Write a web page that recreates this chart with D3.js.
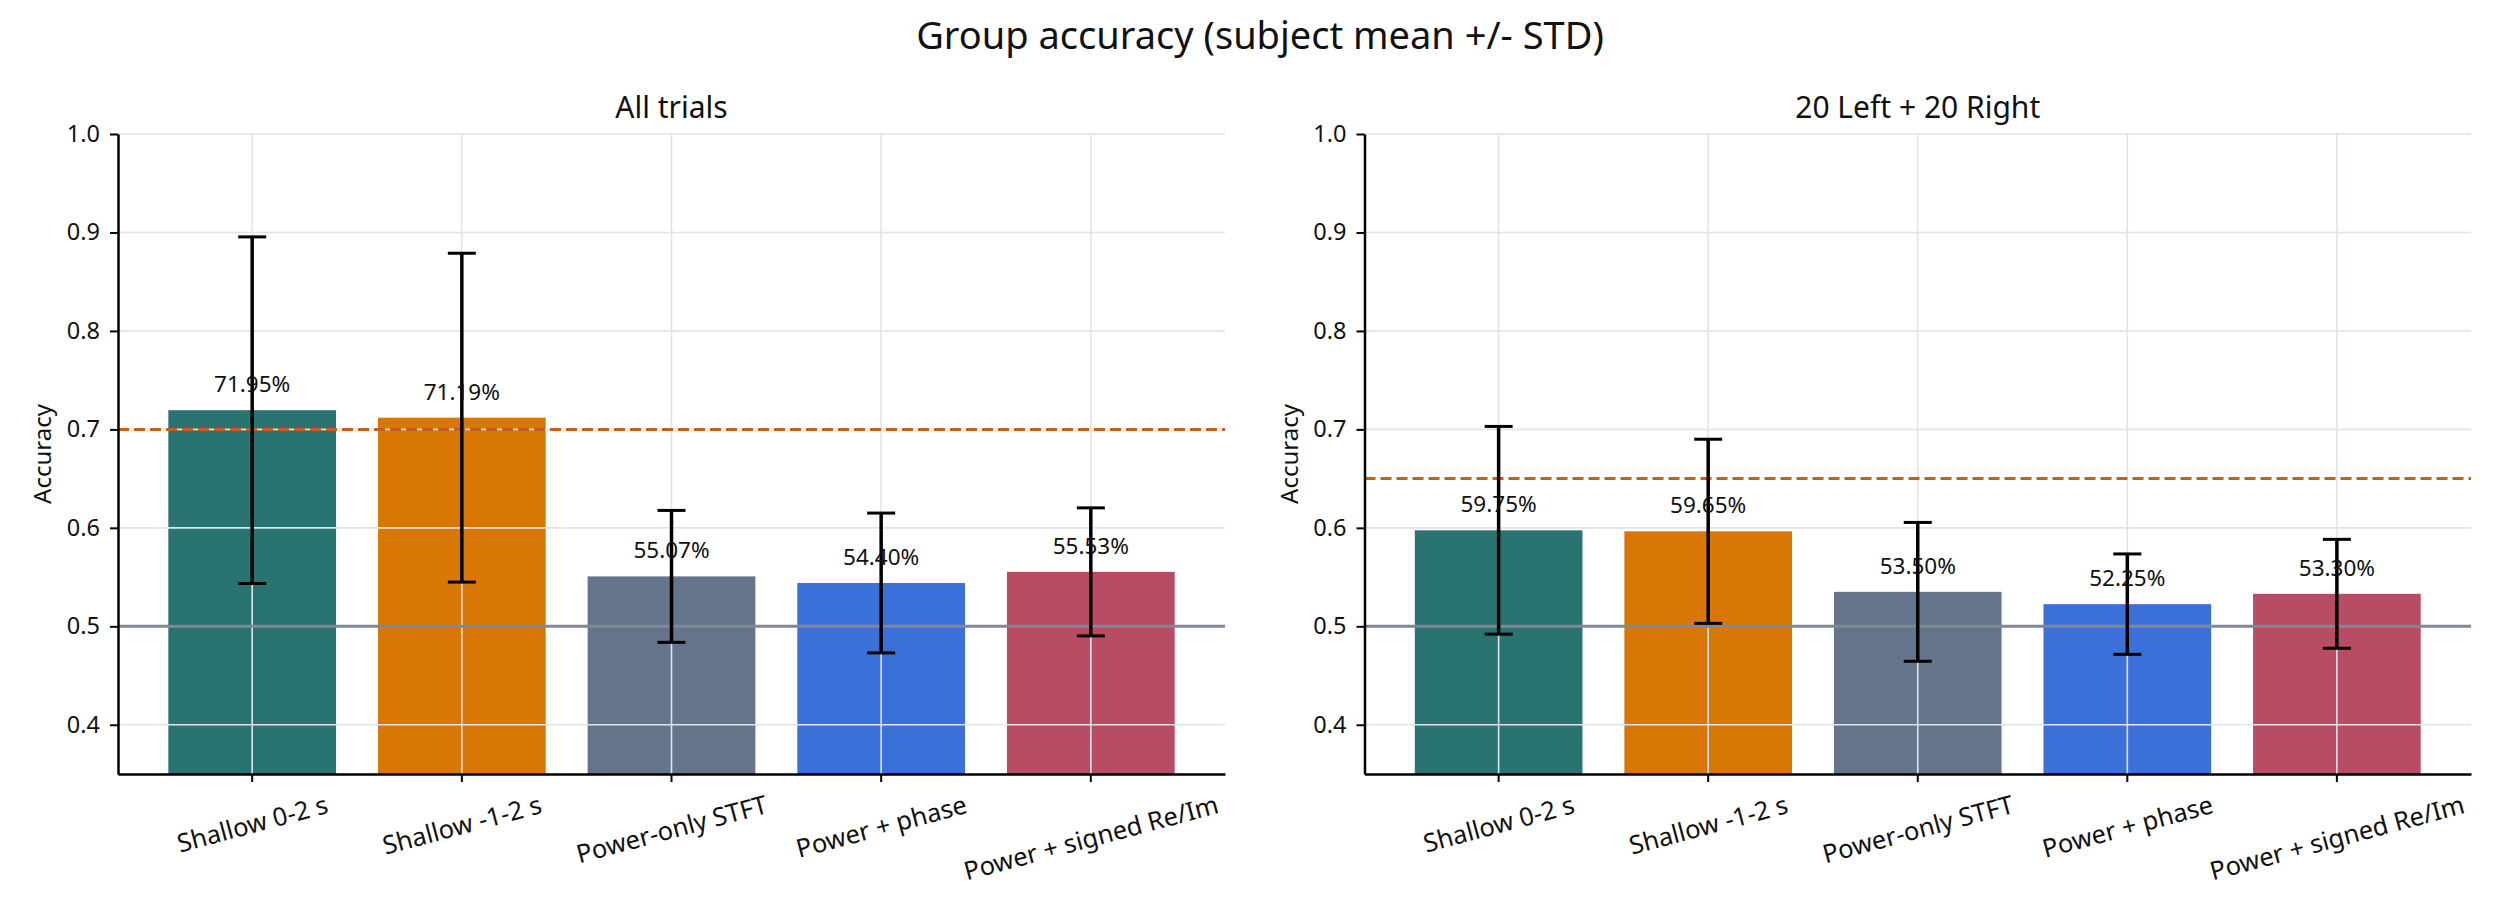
<!DOCTYPE html>
<html lang="en">

<head>
  <meta charset="UTF-8">
  <title>Group accuracy</title>
  <script src="https://d3js.org/d3.v7.min.js"></script>
  <style>
    body {
      margin: 0;
      background: #ffffff;
    }

    text {
      font-family: "Noto Sans", "Open Sans", sans-serif;
      fill: #111111;
    }

    .grid line {
      stroke: #dfe4ec;
      stroke-width: 1.6;
    }
  </style>
</head>

<body>
  <svg id="chart" width="2520" height="900"></svg>

  <script>
    const categories = ["Shallow 0-2 s", "Shallow -1-2 s", "Power-only STFT", "Power + phase", "Power + signed Re/Im"];
    const colors = ["#297370", "#d97706", "#64748b", "#3b70d8", "#b74c62"];

    const allTrialsMean = [0.7195, 0.7119, 0.5507, 0.5440, 0.5553];
    const allTrialsStd = [0.176, 0.167, 0.067, 0.071, 0.065];

    const balancedMean = [0.5975, 0.5965, 0.5350, 0.5225, 0.5330];
    const balancedStd = [0.1055, 0.0935, 0.0705, 0.051, 0.0553];

    const panelTitles = ["All trials", "20 Left + 20 Right"];
    const thresholds = [0.70, 0.65];
    const chanceLevel = 0.5;
    const yTicks = [0.4, 0.5, 0.6, 0.7, 0.8, 0.9, 1.0];

    const svg = d3.select("#chart");

    svg.append("text")
      .attr("x", 1260)
      .attr("y", 49)
      .attr("text-anchor", "middle")
      .style("font-size", "38px")
      .text("Group accuracy (subject mean +/- STD)");

    const plotTop = 134, plotBottom = 774;
    const panels = [
      { left: 118, right: 1225, title: panelTitles[0], mean: allTrialsMean, std: allTrialsStd, thr: thresholds[0] },
      { left: 1364.5, right: 2471, title: panelTitles[1], mean: balancedMean, std: balancedStd, thr: thresholds[1] }
    ];

    panels.forEach(p => drawPanel(p));

    function drawPanel(p) {
      const data = categories.map((c, i) => ({ name: c, mean: p.mean[i], std: p.std[i], color: colors[i] }));

      const x = d3.scaleBand()
        .domain(categories)
        .range([p.left, p.right])
        .paddingInner(0.2)
        .paddingOuter(0.24);

      const y = d3.scaleLinear()
        .domain([0.35, 1.0])
        .range([plotBottom, plotTop]);

      const g = svg.append("g");

      // bars
      g.selectAll(".bar")
        .data(data)
        .enter()
        .append("rect")
        .attr("class", "bar")
        .attr("x", d => x(d.name))
        .attr("width", x.bandwidth())
        .attr("y", d => y(d.mean))
        .attr("height", d => y(0.35) - y(d.mean))
        .attr("fill", d => d.color);

      // grid on top of bars
      const grid = g.append("g").attr("class", "grid");
      grid.selectAll(".hgrid")
        .data(yTicks)
        .enter()
        .append("line")
        .attr("x1", p.left)
        .attr("x2", p.right)
        .attr("y1", d => y(d))
        .attr("y2", d => y(d));
      grid.selectAll(".vgrid")
        .data(categories)
        .enter()
        .append("line")
        .attr("x1", d => x(d) + x.bandwidth() / 2)
        .attr("x2", d => x(d) + x.bandwidth() / 2)
        .attr("y1", plotTop)
        .attr("y2", plotBottom);

      // chance line
      g.append("line")
        .attr("x1", p.left)
        .attr("x2", p.right)
        .attr("y1", y(chanceLevel))
        .attr("y2", y(chanceLevel))
        .attr("stroke", "#7f8995")
        .attr("stroke-width", 3);

      // threshold line
      g.append("line")
        .attr("x1", p.left)
        .attr("x2", p.right)
        .attr("y1", y(p.thr))
        .attr("y2", y(p.thr))
        .attr("stroke", "#c45f1d")
        .attr("stroke-width", 3)
        .attr("stroke-dasharray", "11,5");

      // error bars
      const err = g.selectAll(".err")
        .data(data)
        .enter()
        .append("g")
        .attr("class", "err")
        .attr("stroke", "#000")
        .attr("stroke-width", 3.5);
      const cx = d => x(d.name) + x.bandwidth() / 2;
      err.append("line")
        .attr("x1", cx).attr("x2", cx)
        .attr("y1", d => y(d.mean - d.std))
        .attr("y2", d => y(d.mean + d.std));
      err.append("line")
        .attr("x1", d => cx(d) - 14).attr("x2", d => cx(d) + 14)
        .attr("y1", d => y(d.mean + d.std))
        .attr("y2", d => y(d.mean + d.std))
        .attr("stroke-width", 3);
      err.append("line")
        .attr("x1", d => cx(d) - 14).attr("x2", d => cx(d) + 14)
        .attr("y1", d => y(d.mean - d.std))
        .attr("y2", d => y(d.mean - d.std))
        .attr("stroke-width", 3);

      // value labels
      g.selectAll(".val")
        .data(data)
        .enter()
        .append("text")
        .attr("x", cx)
        .attr("y", d => y(d.mean) - 18)
        .attr("text-anchor", "middle")
        .style("font-size", "22.5px")
        .text(d => (d.mean * 100).toFixed(2) + "%");

      // axes
      const yAxis = g.append("g")
        .attr("transform", `translate(${p.left},0)`)
        .call(d3.axisLeft(y).tickValues(yTicks).tickFormat(d3.format(".1f")).tickSizeInner(8).tickSizeOuter(0).tickPadding(10));
      yAxis.select(".domain").attr("stroke", "#000").attr("stroke-width", 2.5);
      yAxis.selectAll(".tick line").attr("stroke", "#000").attr("stroke-width", 2);
      yAxis.selectAll(".tick text")
        .style("font-size", "23.5px")
        .style("font-family", "Noto Sans")
        .attr("fill", "#111");

      const xAxis = g.append("g")
        .attr("transform", `translate(0,${plotBottom})`)
        .call(d3.axisBottom(x).tickSizeInner(8).tickSizeOuter(0).tickFormat(""));
      xAxis.select(".domain").attr("stroke", "#000").attr("stroke-width", 2.5);
      xAxis.selectAll(".tick line").attr("stroke", "#000").attr("stroke-width", 2);

      // rotated category labels, centred under the ticks
      const angle = 15 * Math.PI / 180;
      categories.forEach(c => {
        const t = g.append("text")
          .attr("text-anchor", "middle")
          .attr("dominant-baseline", "central")
          .style("font-size", "25.5px")
          .text(c);
        const w = t.node().getComputedTextLength();
        const h = 33;
        const bh = w * Math.sin(angle) + h * Math.cos(angle);
        const px = x(c) + x.bandwidth() / 2;
        const py = 787 + bh / 2;
        t.attr("transform", `translate(${px},${py}) rotate(-15)`);
      });

      // y label
      g.append("text")
        .attr("transform", `translate(${p.left - 67},${(plotTop + plotBottom) / 2}) rotate(-90)`)
        .attr("text-anchor", "middle")
        .style("font-size", "24px")
        .text("Accuracy");

      // panel title
      g.append("text")
        .attr("x", (p.left + p.right) / 2)
        .attr("y", 118)
        .attr("text-anchor", "middle")
        .style("font-size", "30px")
        .text(p.title);
    }
  </script>
</body>

</html>
